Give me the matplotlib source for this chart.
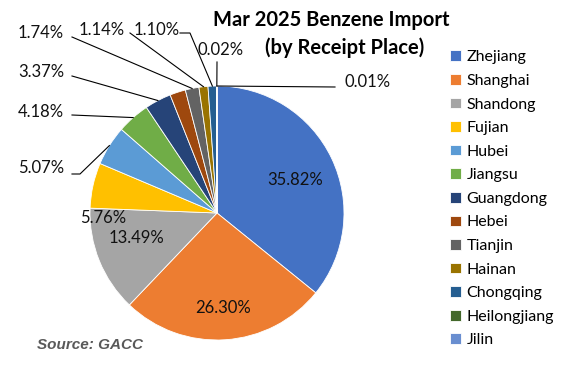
import numpy as np
import matplotlib.pyplot as plt

# data (share of benzene imports, %)
places = ['Zhejiang', 'Shanghai', 'Shandong', 'Fujian', 'Hubei', 'Jiangsu',
          'Guangdong', 'Hebei', 'Tianjin', 'Hainan', 'Chongqing',
          'Heilongjiang', 'Jilin']
shares = [35.82, 26.30, 13.49, 5.76, 5.07, 4.18, 3.37, 2.00, 1.74, 1.14,
          1.10, 0.02, 0.01]
colors = ['#4472C4', '#ED7D31', '#A5A5A5', '#FFC000', '#5B9BD5', '#70AD47',
          '#264478', '#9E480E', '#636363', '#997300', '#255E91', '#43682B',
          '#698ED0']

plt.rcParams['font.family'] = ['Lato', 'DejaVu Sans']

W, H = 581, 367
fig = plt.figure(figsize=(W / 100, H / 100), dpi=100)
ax = fig.add_axes([0, 0, 1, 1])

# pie in pixel coordinates (y up)
cx, cy, r = 217, H - 213, 127
wedges, _ = ax.pie(shares, colors=colors, startangle=90, counterclock=False,
                   center=(cx, cy), radius=r,
                   wedgeprops=dict(edgecolor='white', linewidth=0.6))
ax.set_xlim(0, W)
ax.set_ylim(0, H)
ax.axis('off')

def anchor(i, frac=1.0):
    w = wedges[i]
    a = np.deg2rad((w.theta1 + w.theta2) / 2)
    return cx + frac * r * np.cos(a), cy + frac * r * np.sin(a)

# label placement (pixels from top-left): text centre, leader start points
inside = {0: (295, 180), 1: (223, 308), 2: (136, 238), 3: (103, 218)}
outside = {
    4: ((41, 168), [(72, 174), (80, 174)]),
    5: ((41, 112), [(72, 115)]),
    6: ((41, 72), [(72, 76)]),
    8: ((41, 33), [(72, 37)]),
    9: ((102, 30), [(130, 33)]),
    10: ((157, 30), [(180, 33), (190, 33)]),
    11: ((221, 50), [(217, 62)]),
    12: ((368, 82), [(335, 87)]),
}

for i, (x, y) in inside.items():
    ax.text(x, H - y, f'{shares[i]:.2f}%', ha='center', va='center',
            fontsize=12, color='#111111')

for i, ((x, y), pts) in outside.items():
    ax.text(x, H - y, f'{shares[i]:.2f}%', ha='center', va='center',
            fontsize=12, color='#111111')
    ax0, ay0 = anchor(i)
    xs = [p[0] for p in pts] + [ax0]
    ys = [H - p[1] for p in pts] + [ay0]
    ax.plot(xs, ys, color='black', lw=0.8)

# title
ax.text(331, H - 20, 'Mar 2025 Benzene Import', ha='center', va='center',
        fontsize=14.5, fontweight='bold')
ax.text(345, H - 48, '(by Receipt Place)', ha='center', va='center',
        fontsize=14.5, fontweight='bold')

# source
ax.text(37, H - 345, 'Source: GACC', ha='left', va='center', fontsize=11,
        fontweight='bold', style='italic', color='#595959',
        family='Liberation Sans')

leg = ax.legend(wedges, places, loc='upper left',
                bbox_to_anchor=(444 / W, 1 - 44 / H), frameon=False,
                fontsize=11.5, handlelength=0.65, handleheight=0.65,
                handletextpad=0.35, labelspacing=0.6, borderaxespad=0)

fig.savefig('out.png', dpi=100)
